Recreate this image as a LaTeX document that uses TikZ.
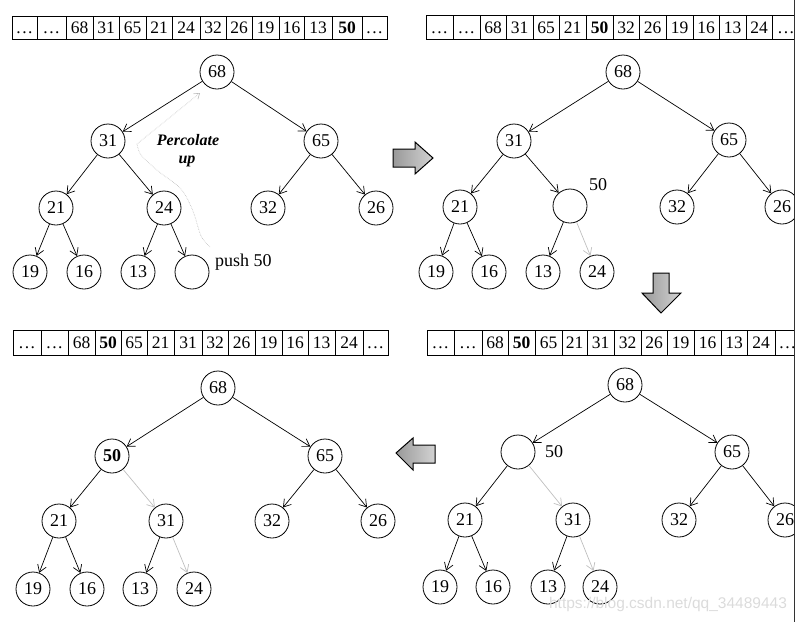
\documentclass[tikz,border=0pt]{standalone}
\usepackage{fontspec}
\setmainfont{Liberation Serif}
\newfontfamily\wmfont{Liberation Sans}
\usetikzlibrary{arrows.meta}
\newcommand\celldots{.\kern1.5pt.\kern1.5pt.}
\begin{document}
\begin{tikzpicture}[x=1pt,y=-1pt,
  hn/.style={circle,draw,line width=0.8pt,minimum size=34pt,inner sep=0pt,font=\fontsize{18}{20}\selectfont},
  ed/.style={-{Straight Barb[length=7pt,width=9pt]},line width=0.7pt},
  led/.style={ed,draw=gray!50},
  celltxt/.style={inner sep=0pt,text height=12pt,text depth=0pt,font=\fontsize{17.5}{20}\selectfont},
  lbl/.style={inner sep=0pt,font=\fontsize{18}{20}\selectfont},
  blk/.style={draw,line width=1pt,left color=gray!80,right color=gray!35},
  wm/.style={inner sep=0pt,text=gray!28,font=\wmfont\fontsize{15.5}{17}\selectfont}
]
\useasboundingbox (0,0) rectangle (797,622);
\begin{scope}
\clip (0,0) rectangle (794,622);
% ---------- arrays ----------
\foreach \l/\r/\t [count=\i] in {12/37/\celldots,37/66/\celldots,66/93/68,93/119/31,119/146/65,146/172/21,172/200/24,200/226/32,226/252/26,252/279/19,279/304/16,304/332/13,332/362/\textbf{50},362/387/\celldots}{
  \draw[line width=0.7pt] (\l,16) rectangle (\r,39);
  \node[celltxt] (ta\i) at ({(\l+\r)/2},27.5) {\t};
}
\foreach \l/\r/\t [count=\i] in {426/453/\celldots,453/480/\celldots,480/506/68,506/533/31,533/559/65,559/586/21,586/613/\textbf{50},613/639/32,639/666/26,666/693/19,693/719/16,719/746/13,746/772/24,772/800/\celldots}{
  \draw[line width=0.7pt] (\l,15) rectangle (\r,39);
  \node[celltxt] (tb\i) at ({(\l+\r)/2},27) {\t};
}
\foreach \l/\r/\t [count=\i] in {13/41/\celldots,41/68/\celldots,68/95/68,95/121/\textbf{50},121/147/65,147/174/21,174/202/31,202/228/32,228/255/26,255/282/19,282/308/16,308/335/13,335/363/24,363/388/\celldots}{
  \draw[line width=0.7pt] (\l,330) rectangle (\r,355);
  \node[celltxt] (tc\i) at ({(\l+\r)/2},342.5) {\t};
}
\foreach \l/\r/\t [count=\i] in {427/454/\celldots,454/482/\celldots,482/508/68,508/535/\textbf{50},535/562/65,562/587/21,587/614/31,614/641/32,641/667/26,667/694/19,694/721/16,721/747/13,747/775/24,775/800/\celldots}{
  \draw[line width=0.7pt] (\l,330) rectangle (\r,355);
  \node[celltxt] (td\i) at ({(\l+\r)/2},342.5) {\t};
}
% ---------- tree A (top left) ----------
\node[hn] (a68) at (217,72) {68};
\node[hn] (a31) at (108,141) {31};
\node[hn] (a65) at (321,141) {65};
\node[hn] (a21) at (56,208) {21};
\node[hn] (a24) at (164,208) {24};
\node[hn] (a32) at (268,208) {32};
\node[hn] (a26) at (376,208) {26};
\node[hn] (a19) at (30,272) {19};
\node[hn] (a16) at (84,272) {16};
\node[hn] (a13) at (138,272) {13};
\node[hn] (ae) at (192,272) {};
\node[lbl,anchor=west] (push) at (215,262) {push 50};
\foreach \p/\c in {a68/a31,a68/a65,a31/a21,a31/a24,a65/a32,a65/a26,a21/a19,a21/a16,a24/a13,a24/ae}
  \draw[ed] (\p) -- (\c);
\coordinate (pc0) at (210,247);
\coordinate (pc1) at (201,236);
\coordinate (pc2) at (193,211);
\coordinate (pc3) at (181,189);
\coordinate (pc4) at (158,171);
\coordinate (pc5) at (141,155);
\coordinate (pc6) at (137,144);
\coordinate (pc7) at (200,93);
\draw[gray!55,line width=0.6pt,densely dotted,-{Straight Barb[length=5pt,width=7pt]}] plot[smooth,tension=0.5] coordinates {(pc0) (pc1) (pc2) (pc3) (pc4) (pc5) (pc6)} -- (pc7);
\node[inner sep=0pt,font=\fontsize{16}{18}\selectfont\bfseries\itshape] (perc) at (188,140) {Percolate};
\node[inner sep=0pt,font=\fontsize{16}{18}\selectfont\bfseries\itshape] (up) at (187,161) {up};
% ---------- tree B (top right) ----------
\node[hn] (b68) at (623,72) {68};
\node[hn] (b31) at (514,141) {31};
\node[hn] (b65) at (729,140) {65};
\node[hn] (b21) at (460,207) {21};
\node[hn] (be) at (570,206) {};
\node[lbl] (b50) at (598,185) {50};
\node[hn] (b32) at (677,207) {32};
\node[hn] (b26) at (782,207) {26};
\node[hn] (b19) at (436,272) {19};
\node[hn] (b16) at (489,272) {16};
\node[hn] (b13) at (543,272) {13};
\node[hn] (b24) at (597,272) {24};
\foreach \p/\c in {b68/b31,b68/b65,b31/b21,b31/be,b65/b32,b65/b26,b21/b19,b21/b16,be/b13}
  \draw[ed] (\p) -- (\c);
\draw[led] (be) -- (b24);
% ---------- tree C (bottom left) ----------
\node[hn] (c68) at (218,388) {68};
\node[hn,font=\fontsize{18}{20}\selectfont\bfseries] (c50) at (112,456) {50};
\node[hn] (c65) at (325,456) {65};
\node[hn] (c21) at (59,521) {21};
\node[hn] (c31) at (166,521) {31};
\node[hn] (c32) at (272,521) {32};
\node[hn] (c26) at (378,521) {26};
\node[hn] (c19) at (33,589) {19};
\node[hn] (c16) at (87,589) {16};
\node[hn] (c13) at (140,589) {13};
\node[hn] (c24) at (194,589) {24};
\foreach \p/\c in {c68/c50,c68/c65,c50/c21,c65/c32,c65/c26,c21/c19,c21/c16,c31/c13}
  \draw[ed] (\p) -- (\c);
\draw[led] (c50) -- (c31);
\draw[led] (c31) -- (c24);
% ---------- tree D (bottom right) ----------
\node[hn] (d68) at (625,385) {68};
\node[hn] (de) at (518,452) {};
\node[lbl] (d50) at (554,452) {50};
\node[hn] (d65) at (732,452) {65};
\node[hn] (d21) at (465,520) {21};
\node[hn] (d31) at (573,520) {31};
\node[hn] (d32) at (679,520) {32};
\node[hn] (d26) at (785,520) {26};
\node[hn] (d19) at (440,587) {19};
\node[hn] (d16) at (493,587) {16};
\node[hn] (d13) at (548,587) {13};
\node[hn] (d24) at (600,587) {24};
\foreach \p/\c in {d68/de,d68/d65,de/d21,d65/d32,d65/d26,d21/d19,d21/d16,d31/d13}
  \draw[ed] (\p) -- (\c);
\draw[led] (de) -- (d31);
\draw[led] (d31) -- (d24);
% ---------- block arrows ----------
\draw[blk] (393,149) -- (415,149) -- (415,142) -- (433,158) -- (415,174) -- (415,167) -- (393,167) -- cycle;
\draw[blk] (653,273) -- (669,273) -- (669,293) -- (681,293) -- (661,313) -- (642,293) -- (653,293) -- cycle;
\draw[blk] (396,453) -- (413,438) -- (413,445) -- (435,445) -- (435,463) -- (413,463) -- (413,470) -- cycle;
% ---------- watermark ----------
\node[wm] (wmk) at (668,604) {https://blog.csdn.net/qq\_34489443};
\end{scope}
\draw[line width=0.8pt,black!80] (794,0) -- (794,622);
\end{tikzpicture}
\end{document}
